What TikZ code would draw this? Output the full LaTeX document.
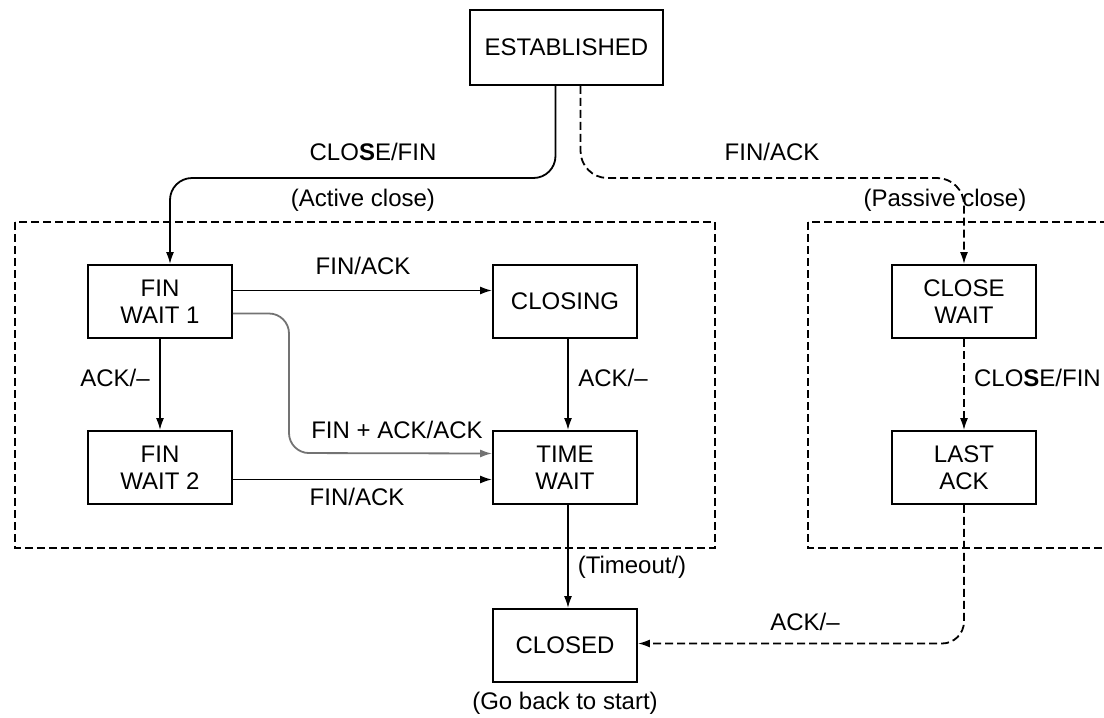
\documentclass[tikz,border=0pt]{standalone}
\usepackage{fontspec}
\setmainfont{Liberation Sans}
\usetikzlibrary{arrows.meta}
\tikzset{
  state/.style={draw,line width=1.8pt,minimum width=144pt,minimum height=73pt,inner sep=0pt,align=center},
  lbl/.style={inner sep=0pt},
  arr/.style={line width=1.8pt,-{Latex[length=12pt,width=8pt]}},
  dsh/.style={dash pattern=on 8pt off 4pt},
  every node/.style={font=\fontsize{24}{27}\selectfont}
}
\begin{document}
\begin{tikzpicture}[x=1pt,y=-1pt]
\useasboundingbox (0,0) rectangle (1104,718);
\clip (0,0) rectangle (1104,718);
% states
\node[state,minimum width=193pt,minimum height=75pt] (est) at (566.5,47.5) {ESTABLISHED};
\node[state] (fwa) at (160,301.5) {FIN\\WAIT 1};
\node[state] (closing) at (565,301.5) {CLOSING};
\node[state] (fwb) at (160,467.5) {FIN\\WAIT 2};
\node[state] (timewait) at (565,467.5) {TIME\\WAIT};
\node[state] (closewait) at (964,301.5) {CLOSE\\WAIT};
\node[state] (lastack) at (964,467.5) {LAST\\ACK};
\node[state] (closed) at (565,645.5) {CLOSED};
% dashed groups
\draw[dsh,line width=1.6pt] (15,222) rectangle (715,548);
\draw[dsh,line width=1.6pt] (808,222) rectangle (1130,548);
% bends
\coordinate (act) at (170,178);
\coordinate (pas) at (964,178);
\coordinate (fk) at (289,453);
% transitions
\draw[arr,rounded corners=22pt] ([xshift=-11]est.south) |- (act) -- ([xshift=10]fwa.north);
\draw[arr,dsh,rounded corners=27pt] ([xshift=14]est.south) |- (pas) -- (closewait.north);
\draw[arr] ([yshift=11]fwa.east) -- ([yshift=11]closing.west);
\draw[arr,black!55,rounded corners=20pt] ([yshift=-12]fwa.east) -| (fk) -- ([yshift=14]timewait.west);
\draw[arr] (fwa.south) -- (fwb.north);
\draw[arr] ([yshift=-12]fwb.east) -- ([yshift=-12]timewait.west);
\draw[arr] ([xshift=3]closing.south) -- ([xshift=3]timewait.north);
\draw[arr] ([xshift=3]timewait.south) -- ([xshift=3]closed.north);
\draw[arr,dsh] (closewait.south) -- (lastack.north);
\draw[arr,dsh,rounded corners=22pt] (lastack.south) |- ([yshift=2]closed.east);
% labels
\node[lbl] (l1) at (373,152) {CLO\textbf{S}E/FIN};
\node[lbl] (l2) at (363,200) {(Active close)};
\node[lbl] (l3) at (772,152) {FIN/ACK};
\node[lbl] (l4) at (945,200) {(Passive close)};
\node[lbl] (l5) at (363,266) {FIN/ACK};
\node[lbl] (l6) at (397,430) {FIN + ACK/ACK};
\node[lbl] (l7) at (115,378) {ACK/–};
\node[lbl] (l8) at (357,497) {FIN/ACK};
\node[lbl] (l9) at (613,378) {ACK/–};
\node[lbl,anchor=east] (l10) at (1101,378) {CLO\textbf{S}E/FIN};
\node[lbl] (l11) at (632,567) {(Timeout/)};
\node[lbl] (l12) at (805,622) {ACK/–};
\node[lbl] (l13) at (565,703) {(Go back to start)};
\end{tikzpicture}
\end{document}
